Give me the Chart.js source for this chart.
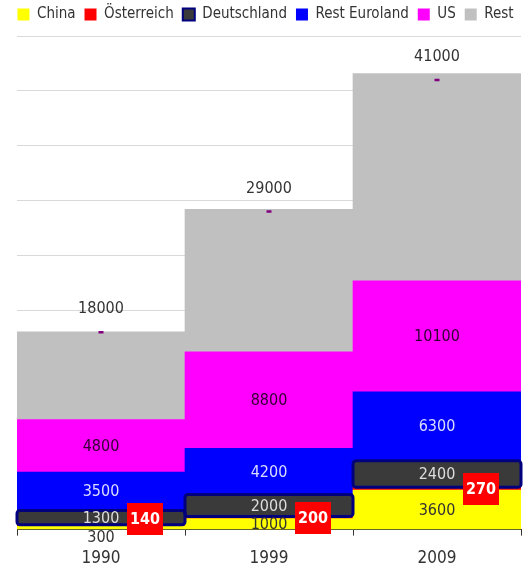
<!DOCTYPE html>
<html>
<head>
<meta charset="utf-8">
<script src="https://cdn.jsdelivr.net/npm/chart.js@4.4.1/dist/chart.umd.min.js"></script>
<style>
  html, body { margin: 0; padding: 0; background: #ffffff; }
  #wrap { width: 524px; height: 571px; }
</style>
</head>
<body>
<div id="wrap"><canvas id="chart" width="524" height="571"></canvas></div>
<script>
// Years on the category axis
const years = ['1990', '1999', '2009'];

// Stacked components per year
const china        = [300, 1000, 3600];
const oesterreich  = [140, 200, 270];
const deutschland  = [1300, 2000, 2400];
const restEuroland = [3500, 4200, 6300];
const us           = [4800, 8800, 10100];
const rest         = [8000, 13000, 18900];

// Overall totals, shown as a marker and a label above each column
const totals = [18000, 29000, 41000];

// Value axis range (tick labels hidden, grid lines only)
const yMax = 45000;
const yStep = 5000;

const FONT = "'DejaVu Sans Condensed', 'Liberation Sans Narrow', sans-serif";
const TEXT = '#333333';
const NAVY = '#00007f';

Chart.defaults.font.family = FONT;
Chart.defaults.color = TEXT;

// Legend row: a little more room below it and a small nudge right/down
const legendSpacing = {
  id: 'legendSpacing',
  beforeInit(chart) {
    const legend = chart.legend;
    const fit = legend.fit;
    legend.fit = function () {
      fit.call(this);
      this.height += 6;
    };
    const draw = legend.draw;
    legend.draw = function () {
      const ctx = this.ctx;
      ctx.save();
      ctx.translate(5, 2);
      draw.call(this);
      ctx.restore();
    };
  }
};

// Draws the value labels, the framed Deutschland segments and the Österreich badges
const segmentLabels = {
  id: 'segmentLabels',
  afterDatasetsDraw(chart) {
    const ctx = chart.ctx;
    const area = chart.chartArea;
    const ds = chart.data.datasets;
    ctx.save();

    // frame around the Deutschland segments
    chart.getDatasetMeta(2).data.forEach(el => {
      const p = el.getProps(['x', 'y', 'base', 'width'], true);
      const top = Math.min(p.y, p.base);
      const h = Math.abs(p.base - p.y);
      ctx.beginPath();
      if (ctx.roundRect) ctx.roundRect(p.x - p.width / 2, top, p.width, h, 3);
      else ctx.rect(p.x - p.width / 2, top, p.width, h);
      ctx.lineWidth = 3;
      ctx.strokeStyle = NAVY;
      ctx.stroke();
    });

    // centred numbers inside the segments
    const labelled = [
      { idx: 0, color: '#333333' },
      { idx: 2, color: '#dddddd' },
      { idx: 3, color: '#dcdcff' },
      { idx: 4, color: '#330033' }
    ];
    ctx.font = '16px ' + FONT;
    ctx.textAlign = 'center';
    ctx.textBaseline = 'middle';
    labelled.forEach(({ idx, color }) => {
      const values = ds[idx].data;
      chart.getDatasetMeta(idx).data.forEach((el, i) => {
        const p = el.getProps(['x', 'y', 'base'], true);
        const h = Math.abs(p.base - p.y);
        let cy = (p.y + p.base) / 2 + 1;
        let col = color;
        if (h < 6) { cy = p.base + 9; col = TEXT; }
        ctx.fillStyle = col;
        ctx.fillText(String(values[i]), p.x, cy);
      });
    });

    // Österreich badges
    ctx.font = 'bold 16px ' + FONT;
    chart.getDatasetMeta(1).data.forEach((el, i) => {
      const p = el.getProps(['x', 'y', 'base'], true);
      const cx = p.x + 44;
      const cy = Math.min((p.y + p.base) / 2, area.bottom - 11);
      const txt = String(ds[1].data[i]);
      const w = ctx.measureText(txt).width + 6;
      const hh = 32;
      ctx.fillStyle = '#ff0000';
      ctx.fillRect(Math.round(cx - w / 2), Math.round(cy - hh / 2), Math.round(w), hh);
      ctx.fillStyle = '#ffffff';
      ctx.fillText(txt, cx, cy + 1);
    });

    // totals above the markers
    ctx.font = '16px ' + FONT;
    ctx.fillStyle = TEXT;
    chart.getDatasetMeta(6).data.forEach((el, i) => {
      ctx.fillText(String(ds[6].data[i]), el.x, el.y - 23);
    });

    ctx.restore();
  }
};

const barBase = {
  type: 'bar',
  stack: 'anteile',
  borderWidth: 0,
  barPercentage: 1,
  categoryPercentage: 1,
  order: 1
};

new Chart(document.getElementById('chart'), {
  type: 'bar',
  data: {
    labels: years,
    datasets: [
      { ...barBase, label: 'China', data: china, backgroundColor: '#ffff00' },
      { ...barBase, label: 'Österreich', data: oesterreich, backgroundColor: '#ff0000' },
      { ...barBase, label: 'Deutschland', data: deutschland, backgroundColor: '#3a3a3a', borderColor: NAVY },
      { ...barBase, label: 'Rest Euroland', data: restEuroland, backgroundColor: '#0000ff' },
      { ...barBase, label: 'US', data: us, backgroundColor: '#ff00ff' },
      { ...barBase, label: 'Rest', data: rest, backgroundColor: '#c0c0c0' },
      {
        type: 'line', label: 'Summe', data: totals, stack: 'summe',
        showLine: false, pointStyle: 'line', pointRadius: 2.5,
        pointBorderWidth: 2.5, pointBorderColor: '#800080',
        pointBackgroundColor: '#800080', order: 0
      }
    ]
  },
  options: {
    responsive: false,
    animation: false,
    events: [],
    layout: { autoPadding: false, padding: { left: 0, right: 3, top: -4, bottom: -11 } },
    plugins: {
      tooltip: { enabled: false },
      legend: {
        position: 'top',
        labels: {
          boxWidth: 12,
          boxHeight: 12,
          padding: 9,
          color: TEXT,
          font: { size: 15, family: FONT },
          filter: item => item.datasetIndex < 6,
          generateLabels(chart) {
            const items = Chart.defaults.plugins.legend.labels.generateLabels(chart);
            items.forEach(it => {
              if (it.datasetIndex === 2) { it.lineWidth = 2; it.strokeStyle = NAVY; }
              else { it.lineWidth = 0; }
            });
            return items;
          }
        }
      }
    },
    scales: {
      x: {
        stacked: true,
        grid: { display: true, drawOnChartArea: false, drawTicks: true, tickLength: 6, color: TEXT, offset: true },
        border: { display: true, color: TEXT, width: 1 },
        ticks: { color: TEXT, font: { size: 17, family: FONT }, padding: 13 }
      },
      y: {
        stacked: true,
        min: 0,
        max: yMax,
        afterFit(scale) { scale.width = 17; },
        ticks: { display: false, stepSize: yStep },
        grid: { color: '#d9d9d9', drawTicks: false },
        border: { display: false }
      }
    }
  },
  plugins: [legendSpacing, segmentLabels]
});
</script>
</body>
</html>
